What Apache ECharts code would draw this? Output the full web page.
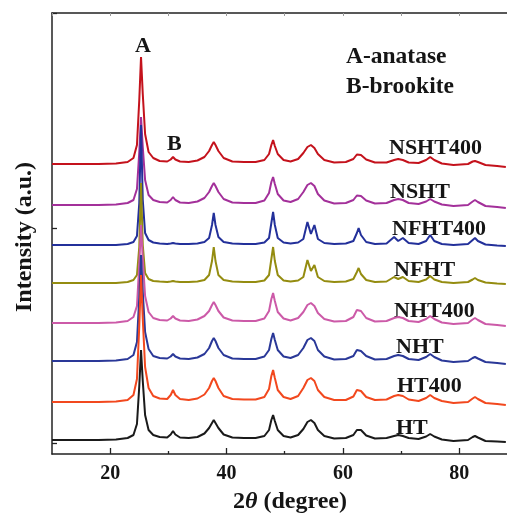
<!DOCTYPE html>
<html><head><meta charset="utf-8">
<script src="https://cdn.jsdelivr.net/npm/echarts@6/dist/echarts.min.js"></script>
<style>html,body{margin:0;padding:0;background:#fff}#c{width:507px;height:515px}</style>
</head><body><div id="c"></div>
<script>
// 2θ sampling positions (degree)
const twoTheta = [10,14,18,21,23,24,24.6,25.0,25.3,25.6,26.0,26.6,27.4,28.5,29.8,30.4,30.8,31.2,32,33.5,35,36.2,37.0,37.5,37.8,38.1,38.6,39.5,41,43,45,46.5,47.3,47.7,48.0,48.3,48.8,49.8,51,52.3,53.2,53.9,54.5,55.1,55.7,56.8,58.5,60.5,61.8,62.4,62.7,63.1,64,65.5,67.5,68.8,69.5,70.3,71.3,73,74.3,75.0,75.7,77,79,81.5,82.3,82.7,83.2,84.5,86.5,88];
// intensities (a.u.) relative to each pattern's own baseline
const NSHT400 = [0,0,0,0.5,2,6,19,64,107,70,30,12,6,3,2.5,4.5,7,4.5,2.5,2,3.5,7,13,19,22,19,13,6,2.5,2,2,4,10,19,24,18,10,4,2.5,5,11,17,19,16,10,4,1.5,2,5,9.5,11,9,4.5,1.5,1.5,4,5,4,1.5,1,4,7,4,0.5,-1,0,2.5,3,2,-1,-2,-3];
const NSHT    = [0,0,0,0.5,2,5,16,53,88,58,25,10,5,3,2.5,5,8,5,2.5,2,3.5,7,13,19,22,19,13,6,2.5,2,2,4.5,12,23,28,21,11,4.5,3,6,13,20,22,19,11,4.5,1.5,2,5,9.5,11,9,4.5,1.5,2,5,6,5,2,1,3.5,6,3.5,0.5,-1,0,3.5,5,3,-1,-2,-3];
const NFHT400 = [0,0,0,0,1,3,9,42,120,45,12,5,2.5,1.5,1,1.5,2,1.5,1,1,1.5,3,7,20,32,20,8,3,1.5,1,1,2.5,7,22,33,20,7,2.5,1.5,2.5,6,23,11,20,6,2,1,1.5,4,12,17,10,3,1,1.5,8,4,7,2,1,4,10,4,1,0,1,5,7,4,0.5,-0.5,-1];
const NFHT    = [0,0,0,0,1,3,8,36,100,38,10,4,2,1.5,1,1.5,2,1.5,1,1,1.5,3,8,22,36,22,8,3,1.5,1,1,2.5,8,24,36,22,8,2.5,1.5,2.5,6,23,12,18,6,2,1,1.5,4,11,15,9,3,1,1.5,6,4,6,2,1,3.5,7,3.5,1,0,1,3.5,5,3,0.5,-0.5,-1];
const NHT400  = [0,0,0,0.5,2,6,17,59,98,64,27,11,5,3,2.5,4.5,7,4.5,2.5,2,3.5,7,12,18,21,18,12,5.5,2.5,2,2,4.5,12,24,30,22,11,4.5,2.5,5,11,18,20,17,10,4,1.5,2,6,13,15,12,5,1.5,2,5,6,5,2,1,4,7,4,0.5,-1,0,3.5,5,3,-1,-2,-3];
const NHT     = [0,0,0,0.5,2,6,19,64,106,69,29,12,5,3,2.5,4.5,7,4.5,2.5,2,3.5,7,13,20,23,20,13,6,2.5,2,2,4.5,11,22,28,21,11,4.5,3,6,13,21,23,20,11,4.5,1.5,2,5,11,13,10,5,1.5,2,5,6,5,2,1,4,7,4,0.5,-1,0,3,4,2.5,-1,-2,-3];
const HT400   = [0,0,0,0.5,2,7,23,76,127,83,35,14,6,3.5,3,7,12,7,3,2,3.5,7.5,14,21,24,21,14,6,3,2.5,2.5,5,13,26,32,24,12,5,3,6,14,22,24,21,12,5,2,2,5.5,12,14,11,5,2,2.5,6,7,6,2.5,1,4,7,4,1,-1,0,3.5,5,3,-1,-2,-3];
const HT      = [0,0,0,0.5,2,5,16,54,90,59,25,10,5,3,2.5,5.5,9,5.5,2.5,2,3,6.5,12,17,20,17,12,5.5,2.5,2,2,4,10,20,25,19,10,4,2.5,5,11,18,20,17,10,4,1.5,2,5,10,12,10,4.5,1.5,2,4,5,4,2,1,3.5,6,3.5,0.5,-1,0,3,4,2.5,-1,-1.5,-2];
// sample names, vertical offsets (a.u.) of the stacked patterns
const sampleNames = ['NSHT400','NSHT','NFHT400','NFHT','NHT400','NHT','HT400','HT'];
const sampleData  = [NSHT400, NSHT, NFHT400, NFHT, NHT400, NHT, HT400, HT];
const stackOffsets = [279, 238, 198, 160, 120, 82, 41, 3];
const xTickLabels = [20, 40, 60, 80];
const xMinorTicks = [30, 50, 70];

const colors = ['#c4121c','#a3309a','#23309a','#948c10','#cc5aa8','#2a3898','#f2481e','#1a1a1a'];
const labelPos = [[389,148],[390,192],[392,229],[394,270],[394,311],[396,347],[397,386],[396,428]];
sampleData.forEach((d,i)=>{ if(d.length!==twoTheta.length) console.error('len', sampleNames[i], d.length); });

const FONT = '"Liberation Serif","Times New Roman",serif';
const TXT = '#151515';
const chart = echarts.init(document.getElementById('c'), null, {renderer:'canvas'});
const series = sampleData.map((d,i)=>({
  name: sampleNames[i], type:'line', xAxisIndex:0, yAxisIndex:0,
  data: twoTheta.map((x,k)=>[x, d[k] + stackOffsets[i]]),
  showSymbol:false, symbol:'none', animation:false,
  lineStyle:{color:colors[i], width:2}
}));
const graphics = sampleNames.map((n,i)=>({
  type:'text', left: labelPos[i][0], top: labelPos[i][1]-11,
  style:{text:n, font:'bold 22px '+FONT, fill:TXT}
}));
graphics.push(
  {type:'text', left:135, top:35, style:{text:'A', font:'bold 22px '+FONT, fill:TXT}},
  {type:'text', left:167, top:133, style:{text:'B', font:'bold 22px '+FONT, fill:TXT}},
  {type:'text', left:346, top:45, style:{text:'A-anatase', font:'bold 23.5px '+FONT, fill:TXT}},
  {type:'text', left:346, top:75, style:{text:'B-brookite', font:'bold 23.5px '+FONT, fill:TXT}},
  {type:'text', x:290, y:502, style:{text:'{n|2}{t|θ}{n| (degree)}', align:'center', verticalAlign:'middle',
     rich:{n:{font:'bold 24px '+FONT, fill:TXT}, t:{font:'italic bold 24px '+FONT, fill:TXT}}}},
  {type:'text', x:25, y:237, rotation:Math.PI/2, style:{text:'Intensity (a.u.)', align:'center', verticalAlign:'middle', font:'bold 24px '+FONT, fill:TXT}}
);
chart.setOption({
  animation:false,
  grid:{left:52, right:0, top:13, bottom:61},
  xAxis:[
    {type:'value', min:10, max:88.2, position:'bottom',
     axisLine:{onZero:false, lineStyle:{color:'#222', width:1.5}},
     axisTick:{inside:true, length:6, customValues:xTickLabels, lineStyle:{color:'#222', width:1.3}},
     axisLabel:{customValues:xTickLabels, margin:10, color:TXT, fontFamily:FONT, fontWeight:'bold', fontSize:20},
     splitLine:{show:false}},
    {type:'value', min:10, max:88.2, position:'bottom', gridIndex:0,
     axisLine:{show:false, onZero:false},
     axisTick:{inside:true, length:3, customValues:xMinorTicks, lineStyle:{color:'#222', width:1.3}},
     axisLabel:{show:false}, splitLine:{show:false}},
    {type:'value', min:10, max:88.2, interval:10, position:'top',
     axisLine:{onZero:false, lineStyle:{color:'#222', width:1.5}},
     axisTick:{inside:true, length:3, lineStyle:{color:'#999', width:1}},
     axisLabel:{show:false}, splitLine:{show:false}}
  ],
  yAxis:{type:'value', min:-11, max:430,
     axisLine:{show:true, onZero:false, lineStyle:{color:'#222', width:1.5}},
     axisTick:{show:true, inside:true, length:5, customValues:[0,215,430], lineStyle:{color:'#222', width:1.3}},
     axisLabel:{show:false}, splitLine:{show:false}},
  series:series,
  graphic:graphics
});
</script></body></html>
